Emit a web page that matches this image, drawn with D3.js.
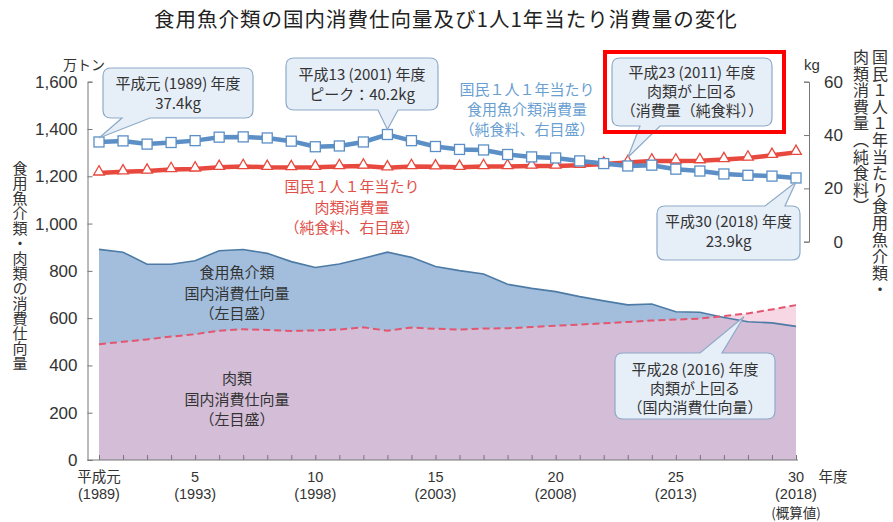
<!DOCTYPE html>
<html><head><meta charset="utf-8">
<script src="https://cdn.jsdelivr.net/npm/d3@7"></script>
<style>
body{margin:0;background:#fff}
svg{display:block}
text{font-family:"Noto Sans CJK JP","Liberation Sans",sans-serif;fill:#333}
.num{font-family:"Liberation Sans",Arial,sans-serif}
.vert{writing-mode:vertical-rl}
</style>
</head><body>
<svg id="c" width="893" height="522"></svg>
<script>
// ---- data ----
const years = d3.range(1989, 2019);
const fishSupply = [891,879,828,828,843,885,890,874,839,814,829,853,879,857,818,801,787,743,726,712,691,673,656,660,627,625,603,585,580,565];
const meatSupply = [490,500,510,522,532,547,553,550,546,548,552,561,547,560,555,552,556,557,562,568,573,578,584,590,594,598,609,620,637,655];
const fishPerCap = [37.4,37.8,36.6,37.2,37.9,39.2,39.3,38.9,37.7,35.6,35.9,37.4,40.2,37.9,35.7,34.6,34.4,32.7,31.8,31.4,30.3,29.3,28.4,28.7,27.2,26.5,25.4,24.9,24.6,23.9];
const meatPerCap = [25.8,26.2,26.5,27.1,27.3,27.9,28.2,27.9,27.8,27.9,28.2,28.4,27.7,28.2,28.1,27.9,28.2,28.2,28.4,28.4,28.7,29.1,29.7,30.3,30.3,30.4,30.8,31.4,32.4,33.5];
const leftTicks = [0,200,400,600,800,1000,1200,1400,1600];
const rightTicks = [0,20,40,60];
const xLabelYears = [1989,1993,1998,2003,2008,2013,2018];
const xLabelTop = ["平成元","5","10","15","20","25","30"];
const xLabelBottom = ["(1989)","(1993)","(1998)","(2003)","(2008)","(2013)","(2018)"];

const svg = d3.select("#c");
const x = d3.scaleLinear().domain([1989, 2018]).range([99, 796]);
const yL = d3.scaleLinear().domain([0, 1600]).range([460, 81.7]);
const yR = d3.scaleLinear().domain([0, 60]).range([241.7, 81.7]);

const fish = years.map((y,i)=>({y, v:fishSupply[i]}));
const meat = years.map((y,i)=>({y, v:meatSupply[i]}));

// title
svg.append("text").attr("x",446).attr("y",27).attr("text-anchor","middle")
  .style("font-size","20.5px").style("letter-spacing","1px").style("fill","#222")
  .text("食用魚介類の国内消費仕向量及び1人1年当たり消費量の変化");

// areas
const area = d3.area().x(d=>x(d.y)).y0(yL(0)).y1(d=>yL(d.v));
svg.append("path").datum(fish).attr("d",area).attr("fill","#a2bedc");
svg.append("path").datum(meat).attr("d",area).attr("fill","rgba(244,188,212,0.6)");
const line = d3.line().x(d=>x(d.y)).y(d=>yL(d.v));
svg.append("path").datum(fish).attr("d",line).attr("fill","none").attr("stroke","#4d7ba6").attr("stroke-width",1.6);
svg.append("path").datum(meat).attr("d",line).attr("fill","none").attr("stroke","#e2566f").attr("stroke-width",2).attr("stroke-dasharray","7,4");

// left axis
const axL = svg.append("g").attr("transform","translate(87.5,0)")
  .call(d3.axisLeft(yL).tickValues(leftTicks).tickSize(-5).tickPadding(10).tickFormat(d3.format(",")));
axL.select(".domain").attr("stroke","#777");
axL.selectAll(".tick line").attr("stroke","#777");
axL.selectAll(".tick text").attr("class","num").style("font-size","17px").style("fill","#333");

// x axis
const axX = svg.append("g").attr("transform","translate(0,460)")
  .call(d3.axisBottom(x).tickValues(years).tickSize(-5).tickFormat(""));
axX.select(".domain").attr("d","M87.5,0H798").attr("stroke","#777");
axX.selectAll(".tick line").attr("stroke","#777");
xLabelYears.forEach((yr,i)=>{
  svg.append("text").attr("x",x(yr)).attr("y",481.5).attr("text-anchor","middle").style("font-size","14.5px")
    .attr("class", i===0 ? null : "num").text(xLabelTop[i]);
  svg.append("text").attr("x",x(yr)).attr("y",498.5).attr("text-anchor","middle").attr("class","num")
    .style("font-size","14.5px").text(xLabelBottom[i]);
});
svg.append("text").attr("x",833).attr("y",481.5).attr("text-anchor","middle").style("font-size","14.5px").text("年度");
svg.append("text").attr("x",x(2018)).attr("y",517.5).attr("text-anchor","middle").style("font-size","13.5px").text("(概算値)");

// right axis
const axR = svg.append("g").attr("transform","translate(809,0)")
  .call(d3.axisRight(yR).tickValues(rightTicks).tickSize(-5).tickPadding(0).tickFormat(d3.format("d")));
axR.select(".domain").attr("stroke","#777");
axR.selectAll(".tick line").attr("stroke","#777");
axR.selectAll(".tick text").attr("class","num").style("font-size","17px").style("fill","#333")
  .attr("text-anchor","end").attr("x",34);

// unit labels
svg.append("text").attr("x",84).attr("y",70).attr("text-anchor","middle").style("font-size","14px").text("万トン");
svg.append("text").attr("x",812).attr("y",70).attr("text-anchor","middle").attr("class","num").style("font-size","15px").text("kg");

// vertical titles
svg.append("text").attr("class","vert").attr("x",20).attr("y",266).attr("text-anchor","middle")
  .style("font-size","15px").text("食用魚介類・肉類の消費仕向量");
svg.append("text").attr("class","vert").attr("x",880).attr("y",49).attr("text-anchor","start")
  .style("font-size","16px").style("letter-spacing","0.6px").text("国民１人１年当たり食用魚介類・");
svg.append("text").attr("class","vert").attr("x",861).attr("y",49).attr("text-anchor","start")
  .style("font-size","16px").style("letter-spacing","0.6px").text("肉類消費量（純食料）");

// per-capita lines
const lineR = d3.line().x((d,i)=>x(years[i])).y(d=>yR(d));
svg.append("path").datum(meatPerCap).attr("d",lineR).attr("fill","none").attr("stroke","#e8493f").attr("stroke-width",4.5);
svg.append("path").datum(fishPerCap).attr("d",lineR).attr("fill","none").attr("stroke","#5b8fc6").attr("stroke-width",4.5);
svg.selectAll(".tri").data(meatPerCap).enter().append("path")
  .attr("d",d3.symbol().type(d3.symbolTriangle).size(50))
  .attr("transform",(d,i)=>`translate(${x(years[i])},${yR(d)-1})`)
  .attr("fill","#fff").attr("stroke","#e8493f").attr("stroke-width",1.3);
svg.selectAll(".sq").data(fishPerCap).enter().append("rect")
  .attr("x",(d,i)=>x(years[i])-5).attr("y",d=>yR(d)-5).attr("width",10).attr("height",10)
  .attr("fill","#fff").attr("stroke","#5b8fc6").attr("stroke-width",1.3);

// series labels
function lines(cx, ys, arr, color, size){
  arr.forEach((t,i)=>svg.append("text").attr("x",cx).attr("y",ys[i]).attr("text-anchor","middle")
    .style("font-size",size+"px").style("fill",color).text(t));
}
lines(527,[95,115,135],["国民１人１年当たり","食用魚介類消費量","（純食料、右目盛）"],"#6a9fd2",15);
lines(352,[192,213,233],["国民１人１年当たり","肉類消費量","（純食料、右目盛）"],"#e0504a",15);
lines(237,[278,299,319],["食用魚介類","国内消費仕向量","（左目盛）"],"#333",15);
lines(237,[384,405,425],["肉類","国内消費仕向量","（左目盛）"],"#333",15);

// callouts
function callout(bx,by,w,h,side,b1,b2,tx,ty,texts,baselines){
  const r=8, p=d3.path();
  p.moveTo(bx+r,by);
  if(side==="top"){p.lineTo(b1,by);p.lineTo(tx,ty);p.lineTo(b2,by);}
  p.lineTo(bx+w-r,by); p.quadraticCurveTo(bx+w,by,bx+w,by+r);
  p.lineTo(bx+w,by+h-r); p.quadraticCurveTo(bx+w,by+h,bx+w-r,by+h);
  if(side==="bottom"){p.lineTo(b2,by+h);p.lineTo(tx,ty);p.lineTo(b1,by+h);}
  p.lineTo(bx+r,by+h); p.quadraticCurveTo(bx,by+h,bx,by+h-r);
  p.lineTo(bx,by+r); p.quadraticCurveTo(bx,by,bx+r,by); p.closePath();
  svg.append("path").attr("d",p.toString()).attr("fill","#e6eef8").attr("stroke","#8eaac8").attr("stroke-width",1.2);
  texts.forEach((t,i)=>svg.append("text").attr("x",bx+w/2).attr("y",baselines[i]).attr("text-anchor","middle")
    .style("font-size","15px").style("fill","#333").text(t));
}
callout(103,68,150,50,"bottom",122,150,x(1989),yR(fishPerCap[0])-4,["平成元 (1989) 年度","37.4kg"],[88.5,108.5]);
callout(286,58,152,52,"bottom",378,398,x(2001),yR(fishPerCap[12])-5,["平成13 (2001) 年度","ピーク：40.2kg"],[80,100]);
callout(612,58,160,68,"bottom",640,660,x(2011),yR(meatPerCap[22])-5,["平成23 (2011) 年度","肉類が上回る","（消費量（純食料））"],[78,97,116]);
callout(657,206,143,54,"top",765,785,x(2018),yR(fishPerCap[29])+4,["平成30 (2018) 年度","23.9kg"],[227,247]);
callout(615,353,160,66,"top",700,722,x(2015)+20,yL(606),["平成28 (2016) 年度","肉類が上回る","（国内消費仕向量）"],[375,394,413]);

// red highlight
svg.append("rect").attr("x",605).attr("y",52).attr("width",179).attr("height",80)
  .attr("fill","none").attr("stroke","#f00").attr("stroke-width",4);
</script>
</body></html>
